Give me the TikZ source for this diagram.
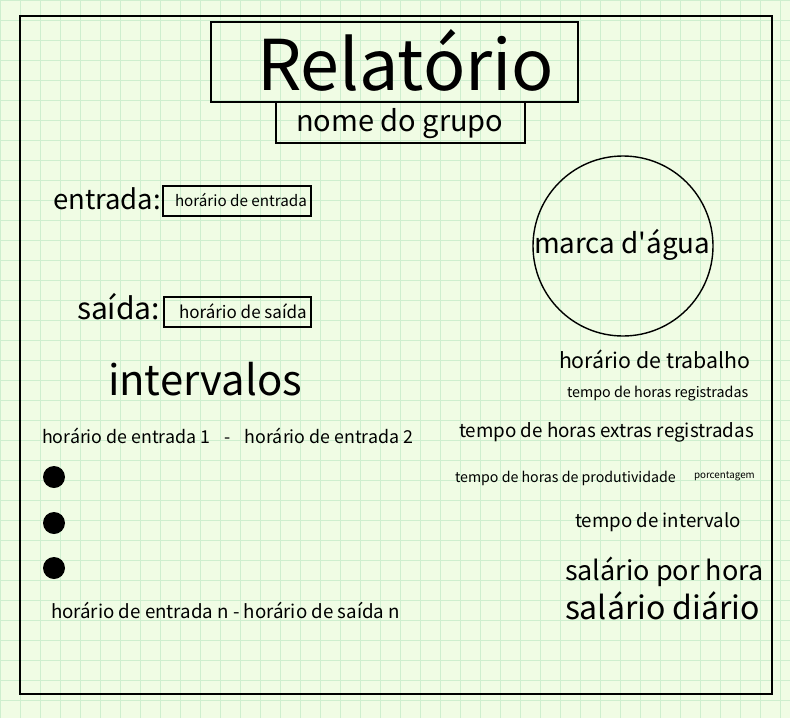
\documentclass[tikz,border=0pt]{standalone}
\usepackage{fontspec}
\setmainfont{Noto Sans CJK SC}[Ligatures=TeXOff]
\definecolor{paper}{RGB}{240,252,228}
\definecolor{gridc}{RGB}{206,238,206}
\newcommand{\fsz}[1]{\fontsize{#1}{#1}\selectfont}
\begin{document}
\begin{tikzpicture}[x=1pt,y=-1pt,
  txt/.style={anchor=base west,inner sep=0pt,outer sep=0pt},
  frame/.style={draw=black,line width=1.6pt},
  boxline/.style={draw=black,line width=1.4pt},
  dot/.style={circle,fill=black,minimum size=22pt,inner sep=0pt}]
\useasboundingbox (0,0) rectangle (790,718);
\fill[paper] (0,0) rectangle (790,718);
\draw[gridc,line width=0.8pt] (0,0) grid[step=20pt] (790,718);
% outer frame
\draw[frame] (20,16) rectangle (772,694);
% title
\draw[boxline] (211,22) rectangle (578,102);
\draw[boxline] (276,102) rectangle (525,143);
\node[txt] (title) at (257,90) {\fsz{70}Relatório};
\node[txt] (grupo) at (296,131) {\fsz{29}nome do grupo};
% entrada / saida
\node[txt] (entrada) at (53,209) {\fsz{27.5}entrada:};
\draw[boxline] (163,186) rectangle (311,216);
\node[txt] (hentrada) at (175,206) {\fsz{15.2}horário de entrada};
\node[txt] (saida) at (77,319) {\fsz{30}saída:};
\draw[boxline] (164,297) rectangle (311,327);
\node[txt] (hsaida) at (179,318) {\fsz{17}horário de saída};
% intervalos
\node[txt] (interv) at (108,395) {\fsz{41.8}intervalos};
\node[txt] (int1) at (42,443) {\fsz{17.8}horário de entrada 1\hspace{0.8em}-\hspace{0.8em}horário de entrada 2};
\node[dot] (d1) at (54,477) {};
\node[dot] (d2) at (54,523) {};
\node[dot] (d3) at (54,568) {};
\node[txt] (intn) at (51,618) {\fsz{18.7}horário de entrada n - horário de saída n};
% watermark
\node[circle,draw=black,line width=1.4pt,minimum size=180pt,inner sep=0pt] (marca) at (623,246) {};
\node[txt] (marcat) at (534,253) {\fsz{27.8}marca d'água};
% right column
\node[txt] (trab) at (559,368) {\fsz{21.3}horário de trabalho};
\node[txt] (reg) at (567,397) {\fsz{14.3}tempo de horas registradas};
\node[txt] (extra) at (459,437) {\fsz{18.8}tempo de horas extras registradas};
\node[txt] (prod) at (455,482) {\fsz{14.2}tempo de horas de produtividade};
\node[txt] (porc) at (694,478) {\fsz{9.8}porcentagem};
\node[txt] (intervalo) at (575,527) {\fsz{18.7}tempo de intervalo};
\node[txt] (shora) at (565,580) {\fsz{27}salário por hora};
\node[txt] (sdia) at (565,619) {\fsz{32}salário diário};
\end{tikzpicture}
\end{document}
